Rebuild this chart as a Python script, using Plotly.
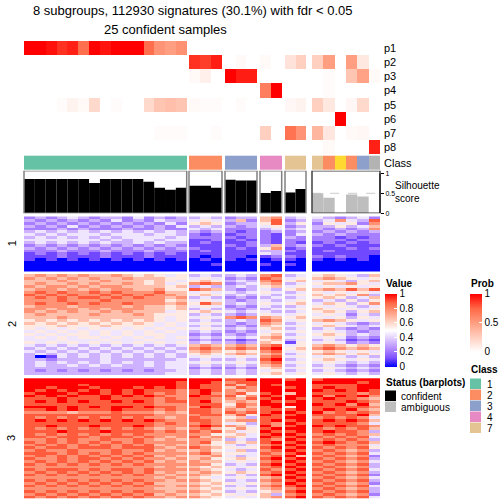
import numpy as np
import plotly.graph_objects as go

# ---------------- data ----------------
group_sizes = [15, 3, 3, 2, 2, 6]
sample_class = [1, 1, 1, 1, 1, 1, 1, 1, 1, 1, 1, 1, 1, 1, 1,
                2, 2, 2, 3, 3, 3, 4, 4, 7, 7,
                7, 2, 6, 2, 3, 8]
sample_status = ["confident"] * 25 + ["ambiguous"] * 6
silhouette = [0.86, 0.86, 0.86, 0.86, 0.86, 0.86, 0.76, 0.86, 0.86, 0.86, 0.86, 0.79, 0.64, 0.59, 0.64,
              0.69, 0.69, 0.64, 0.84, 0.82, 0.82, 0.51, 0.56, 0.52, 0.61,
              0.50, 0.39, 0.0, 0.47, 0.42, 0.0]

prob_labels = ["p1", "p2", "p3", "p4", "p5", "p6", "p7", "p8"]
p1 = [1, 1, 0.96, 0.88, 0.92, 0.72, 1, 0.95, 1, 1, 1, 0.72, 0.55, 0.5, 0.56,
      0, 0, 0, 0, 0, 0, 0, 0, 0, 0, 0, 0, 0, 0, 0, 0]
p2 = [0] * 15 + [0.88, 0.85, 0.93, 0, 0.03, 0, 0.03, 0, 0.15, 0.25, 0.25, 0.5, 0, 0.5, 0.12, 0]
p3 = [0] * 15 + [0.03, 0.08, 0, 1, 0.93, 0.93, 0, 0, 0, 0, 0, 0.02, 0, 0.3, 0.48, 0.03]
p4 = [0] * 15 + [0, 0, 0, 0, 0, 0, 0.65, 1, 0, 0, 0, 0.02, 0, 0, 0, 0]
p5 = [0, 0, 0, 0.02, 0.06, 0.03, 0.2, 0, 0.02, 0, 0, 0.2, 0.3, 0.33, 0.3,
      0.03, 0.02, 0.02, 0, 0.02, 0, 0, 0, 0.04, 0.06, 0.25, 0.12, 0, 0.04, 0.2, 0]
p6 = [0] * 25 + [0, 0, 1, 0, 0, 0]
p7 = [0] * 12 + [0.02, 0.02, 0.02] + [0, 0, 0.02, 0, 0, 0, 0.25, 0, 0.7, 0.55, 0.38, 0.13, 0, 0.03, 0.04, 0]
p8 = [0] * 25 + [0, 0.03, 0, 0, 0, 0.92]

row_group_labels = ["1", "2", "3"]
# heatmap values, digit d -> d/9 ; columns split 15|3|3|2|2|6
heat_rows_1 = [
    "232343233242323 343 233 67 34 432342",
    "323232324232433 454 362 68 23 347438",
    "232323232323242 565 233 58 35 254527",
    "323242323232324 343 323 45 23 335346",
    "222323222322322 434 222 34 34 323237",
    "343434343434343 323 212 23 23 232323",
    "434344434443443 212 122 21 24 323222",
    "343434343444434 222 212 21 32 221212",
    "444444434344344 112 121 21 22 222122",
    "343434343343433 121 112 21 21 121212",
    "232323232323232 111 212 36 23 212111",
    "323232323232323 211 121 57 12 111212",
    "222322232223222 121 111 33 21 121111",
    "121212121212121 111 111 43 11 111111",
    "111211121112111 101 110 12 21 212110",
    "101010101010101 010 101 01 10 101010",
    "000000000000000 000 000 00 00 000000",
    "000000000000000 001 000 10 10 000000",
    "000000000000000 000 000 00 00 000000",
    "000000000000000 000 000 00 00 000000",
]
heat_rows_2 = [
    "676767667656545 343 343 78 34 565436",
    "767676766766655 454 232 87 45 676545",
    "666766676665654 565 343 78 56 454356",
    "676676766765645 787 234 67 34 566754",
    "767767677666656 343 343 56 45 454545",
    "677676767766755 876 323 43 56 676868",
    "787877878777866 454 434 54 34 545454",
    "878787787878776 565 343 43 45 656573",
    "787878878787767 343 232 34 34 565346",
    "777877787777756 454 323 43 45 343535",
    "787787877877767 586 343 54 56 465357",
    "677767777676656 454 232 43 34 545434",
    "776776767776656 343 323 34 45 654545",
    "767676676766645 565 434 43 34 565356",
    "676666766676555 343 323 54 45 454243",
    "666766666666545 454 787 76 56 545354",
    "565656565656545 343 343 87 45 676545",
    "656565656565454 454 323 76 34 454323",
    "555655565555454 343 232 65 45 565434",
    "545454545454545 454 343 56 34 343232",
    "454545454545454 343 232 45 45 454323",
    "545455454545544 232 323 56 34 565343",
    "454545545454545 343 434 67 45 454232",
    "444544454445444 232 212 56 34 343121",
    "545454545454545 343 323 65 15 454232",
    "434343434343434 676 676 78 45 676565",
    "343434343434343 787 787 89 56 787676",
    "434343434343434 676 565 78 45 565454",
    "343434343434343 565 676 67 34 676565",
    "301434343434343 454 454 78 45 454343",
    "332333343333334 343 343 89 34 565454",
    "343434343434344 454 454 78 45 454343",
    "343343434334344 343 343 67 34 343232",
    "333333333333344 232 232 56 45 454343",
    "323232323232334 343 343 45 34 343232",
    "333333333333344 343 343 56 45 454343",
]
heat_rows_3 = [
    "999999999999999 999 889 99 89 899999",
    "999999999999998 998 788 99 99 999989",
    "999998999999998 988 868 98 99 888899",
    "998999899989898 988 687 99 89 898899",
    "989898989898887 898 767 99 99 989898",
    "899989989898787 897 785 89 69 888878",
    "989898898989877 988 857 98 99 979897",
    "888988898888787 887 768 89 98 898876",
    "898989889898788 897 676 98 89 888987",
    "888888888888777 888 587 99 99 989796",
    "999898989989887 798 686 89 59 888887",
    "889898889888787 887 767 88 89 898976",
    "777767778777676 887 878 89 98 978787",
    "888888888888777 788 685 98 89 888896",
    "878787878787767 877 563 88 99 787874",
    "898989898989877 887 677 89 89 898986",
    "888888888888787 787 453 87 98 888874",
    "889888988898777 898 764 97 89 989887",
    "878787878787676 786 575 89 99 878786",
    "888988898888787 878 645 98 89 898873",
    "878787878787777 775 564 89 98 787876",
    "887888788878767 867 654 98 89 878784",
    "778787787787676 776 343 87 98 787873",
    "878787878787777 785 656 89 89 898786",
    "787878787878676 765 434 78 98 787774",
    "878878887888767 876 545 89 89 878785",
    "787787778778676 675 463 78 98 787673",
    "888787878787777 786 554 87 89 878784",
    "787878787878676 667 434 78 96 787672",
    "877878878787767 675 565 89 89 878783",
    "787878787878676 766 454 78 98 787674",
    "878787878787777 775 343 89 89 878783",
    "777777777777676 656 545 78 98 787673",
    "878887878878777 765 434 87 89 878784",
    "787878787878676 676 565 78 98 787673",
    "878787878787767 765 343 89 89 878782",
    "777777777777676 654 454 67 98 787674",
    "878787878787767 765 343 78 89 878783",
    "787878787878666 656 545 67 98 787672",
    "878787878787767 765 343 78 89 878784",
    "777777777777666 656 454 67 78 787673",
    "878787878787767 765 343 56 89 878783",
    "787878787878676 656 545 63 78 787672",
    "878787878787767 765 454 67 89 878784",
]

value_ticks = [0, 0.2, 0.4, 0.6, 0.8, 1]
prob_ticks = [0, 0.5, 1]
sil_ticks = [0, 0.5, 1]
legend_classes = [1, 2, 3, 4, 7]
status_labels = ["confident", "ambiguous"]

# ---------------- style / layout ----------------
FONT = "Liberation Sans, Arial, sans-serif"
SET2 = ["#66C2A5", "#FC8D62", "#8DA0CB", "#E78AC3", "#A6D854", "#FFD92F", "#E5C494", "#B3B3B3"]
STATUS_COL = {"confident": "#000000", "ambiguous": "#BEBEBE"}
VALUE_SCALE = [[0, "#0000FF"], [0.125, "#7E51FF"], [0.25, "#B38BFF"], [0.375, "#DCC5FF"],
               [0.5, "#FFFFFF"], [0.625, "#FFCFBF"], [0.75, "#FF9E81"], [0.875, "#FF6846"], [1, "#FF0000"]]
PROB_SCALE = [[0, "#FFFFFF"], [0.25, "#FFCFBF"], [0.5, "#FF9E81"], [0.75, "#FF6846"], [1, "#FF0000"]]

COL_X0 = [24, 189, 225, 260, 285, 312]
COL_X1 = [186.7, 222, 257, 281.7, 306, 380]
PROB_Y = (41, 154)
CLASS_Y = (155.7, 169.3)
SIL_Y = (170.7, 213.3)
SIL_PX_PER_UNIT = 40.0
ROW_Y = [(216.5, 271), (274, 375), (378.3, 498.5)]
W = H = 504


def decode(rows):
    out = []
    for r in rows:
        s = r.replace(" ", "")
        assert len(s) == 31, (r, len(s))
        out.append([int(c) / 9 for c in s])
    return np.array(out)


mats = [decode(heat_rows_1), decode(heat_rows_2), decode(heat_rows_3)]
prob = np.array([p1, p2, p3, p4, p5, p6, p7, p8], dtype=float)
classes = np.array(sample_class)

# discrete class colorscale
cls_scale = []
for k, c in enumerate(SET2):
    cls_scale.append([k / 8, c])
    cls_scale.append([(k + 1) / 8, c])

fig = go.Figure()
starts = np.cumsum([0] + group_sizes)
bar_x, bar_w = [], []
shapes = []
sil_top = (SIL_Y[1] - SIL_Y[0]) / SIL_PX_PER_UNIT

for g in range(len(group_sizes)):
    a, b = int(starts[g]), int(starts[g + 1])
    n = b - a
    w = (COL_X1[g] - COL_X0[g]) / n
    xc0 = COL_X0[g] + w / 2
    h = (PROB_Y[1] - PROB_Y[0]) / prob.shape[0]
    fig.add_trace(go.Heatmap(z=prob[:, a:b], x0=xc0, dx=w, y0=PROB_Y[0] + h / 2, dy=h,
                             coloraxis="coloraxis2", hoverinfo="skip"))
    fig.add_trace(go.Heatmap(z=[classes[a:b]], x0=xc0, dx=w, y0=(CLASS_Y[0] + CLASS_Y[1]) / 2,
                             dy=CLASS_Y[1] - CLASS_Y[0], coloraxis="coloraxis3", hoverinfo="skip"))
    for k, M in enumerate(mats):
        y0, y1 = ROW_Y[k]
        hh = (y1 - y0) / M.shape[0]
        fig.add_trace(go.Heatmap(z=M[:, a:b], x0=xc0, dx=w, y0=y0 + hh / 2, dy=hh,
                                 coloraxis="coloraxis", hoverinfo="skip"))
    for i in range(n):
        bar_x.append(xc0 + i * w)
        bar_w.append(w)
    amb = sample_status[a] == "ambiguous"
    shapes.append(dict(type="line", xref="x2", yref="y2", x0=COL_X0[g], x1=COL_X1[g], y0=0.5, y1=0.5,
                       line=dict(color="#CCCCCC", width=1, dash="dash"), layer="below"))
    shapes.append(dict(type="rect", xref="x2", yref="y2", x0=COL_X0[g], x1=COL_X1[g], y0=0, y1=sil_top,
                       line=dict(color="#404040" if amb else "#808080", width=1.5), fillcolor="rgba(0,0,0,0)"))

fig.add_trace(go.Bar(x=bar_x, y=silhouette, width=bar_w,
                     marker=dict(color=[STATUS_COL[s] for s in sample_status], line=dict(width=0)),
                     xaxis="x2", yaxis="y2", hoverinfo="skip"))

# silhouette axis line
shapes.append(dict(type="line", xref="x2", yref="y2", x0=380, x1=380, y0=0, y1=1,
                   line=dict(color="black", width=1)))

annotations = []


def txt(t, x, y, size=10, xanchor="left", bold=False, angle=0):
    annotations.append(dict(text=("<b>%s</b>" % t) if bold else t, x=x, y=y, xref="x", yref="y",
                            xanchor=xanchor, yanchor="middle", showarrow=False, textangle=angle,
                            align="left", font=dict(size=size, family=FONT, color="black")))


txt("8 subgroups, 112930 signatures (30.1%) with fdr &lt; 0.05", 192.5, 10.5, size=13, xanchor="center")
txt("25 confident samples", 165, 29, size=13, xanchor="center")
ph = (PROB_Y[1] - PROB_Y[0]) / len(prob_labels)
for i, lab in enumerate(prob_labels):
    txt(lab, 382, PROB_Y[0] + ph * (i + 0.5), size=11)
txt("Class", 382, (CLASS_Y[0] + CLASS_Y[1]) / 2, size=11)
txt("Silhouette<br>score", 393, 192, size=10)
for k, lab in enumerate(row_group_labels):
    y0, y1 = ROW_Y[k]
    txt(lab, 11.5, (y0 + y1) / 2, size=11, xanchor="center", angle=-90)

# legends
txt("Value", 384, 283, bold=True)
txt("Prob", 469, 283, bold=True)
txt("Class", 469, 369, bold=True)
txt("Status (barplots)", 384, 382, bold=True)
for i, c in enumerate(legend_classes):
    y0 = 378.5 + i * 11
    shapes.append(dict(type="rect", xref="x", yref="y", x0=470, x1=481, y0=y0, y1=y0 + 10.5,
                       fillcolor=SET2[c - 1], line=dict(width=0)))
    txt(str(c), 485, y0 + 5.5)
for i, s in enumerate(status_labels):
    y0 = 390.5 + i * 11
    shapes.append(dict(type="rect", xref="x", yref="y", x0=385, x1=396, y0=y0, y1=y0 + 10.5,
                       fillcolor=STATUS_COL[s], line=dict(width=0)))
    txt(s, 399, y0 + 5.5)

cb_common = dict(thickness=12, thicknessmode="pixels", lenmode="pixels", xanchor="left", yanchor="top",
                 outlinewidth=0, xpad=0, ypad=0, ticks="inside", ticklen=3, tickcolor="white",
                 tickfont=dict(size=10, family=FONT, color="black"))

fig.update_layout(
    width=W, height=H, margin=dict(l=0, r=0, t=0, b=0, autoexpand=False),
    paper_bgcolor="white", plot_bgcolor="white", showlegend=False, barmode="overlay",
    font=dict(family=FONT, color="black"),
    xaxis=dict(domain=[0, 1], range=[0, W], visible=False, fixedrange=True),
    yaxis=dict(domain=[0, 1], range=[H, 0], visible=False, fixedrange=True),
    xaxis2=dict(domain=[0, 1], range=[0, W], visible=False, anchor="y2"),
    yaxis2=dict(domain=[1 - SIL_Y[1] / H, 1 - SIL_Y[0] / H], range=[0, sil_top], anchor="free",
                position=380 / W, side="right", showgrid=False, zeroline=False, showline=False,
                tickvals=sil_ticks, ticktext=["0", "0.5", "1"], ticks="outside", ticklen=3,
                tickcolor="black", tickfont=dict(size=7, family=FONT, color="black")),
    coloraxis=dict(colorscale=VALUE_SCALE, cmin=0, cmax=1,
                   colorbar=dict(x=385 / W, y=1 - 293.5 / H, len=73, tickvals=value_ticks,
                                 ticktext=[str(v) for v in value_ticks], **cb_common)),
    coloraxis2=dict(colorscale=PROB_SCALE, cmin=0, cmax=1,
                    colorbar=dict(x=470 / W, y=1 - 293.5 / H, len=58, tickvals=prob_ticks,
                                  ticktext=["0", "0.5", "1"], **cb_common)),
    coloraxis3=dict(colorscale=cls_scale, cmin=0.5, cmax=8.5, showscale=False),
    shapes=shapes, annotations=annotations,
)

fig.write_html("out.html", config={"displayModeBar": False},
               post_script="document.body.style.margin='0';document.body.style.overflow='hidden';")
